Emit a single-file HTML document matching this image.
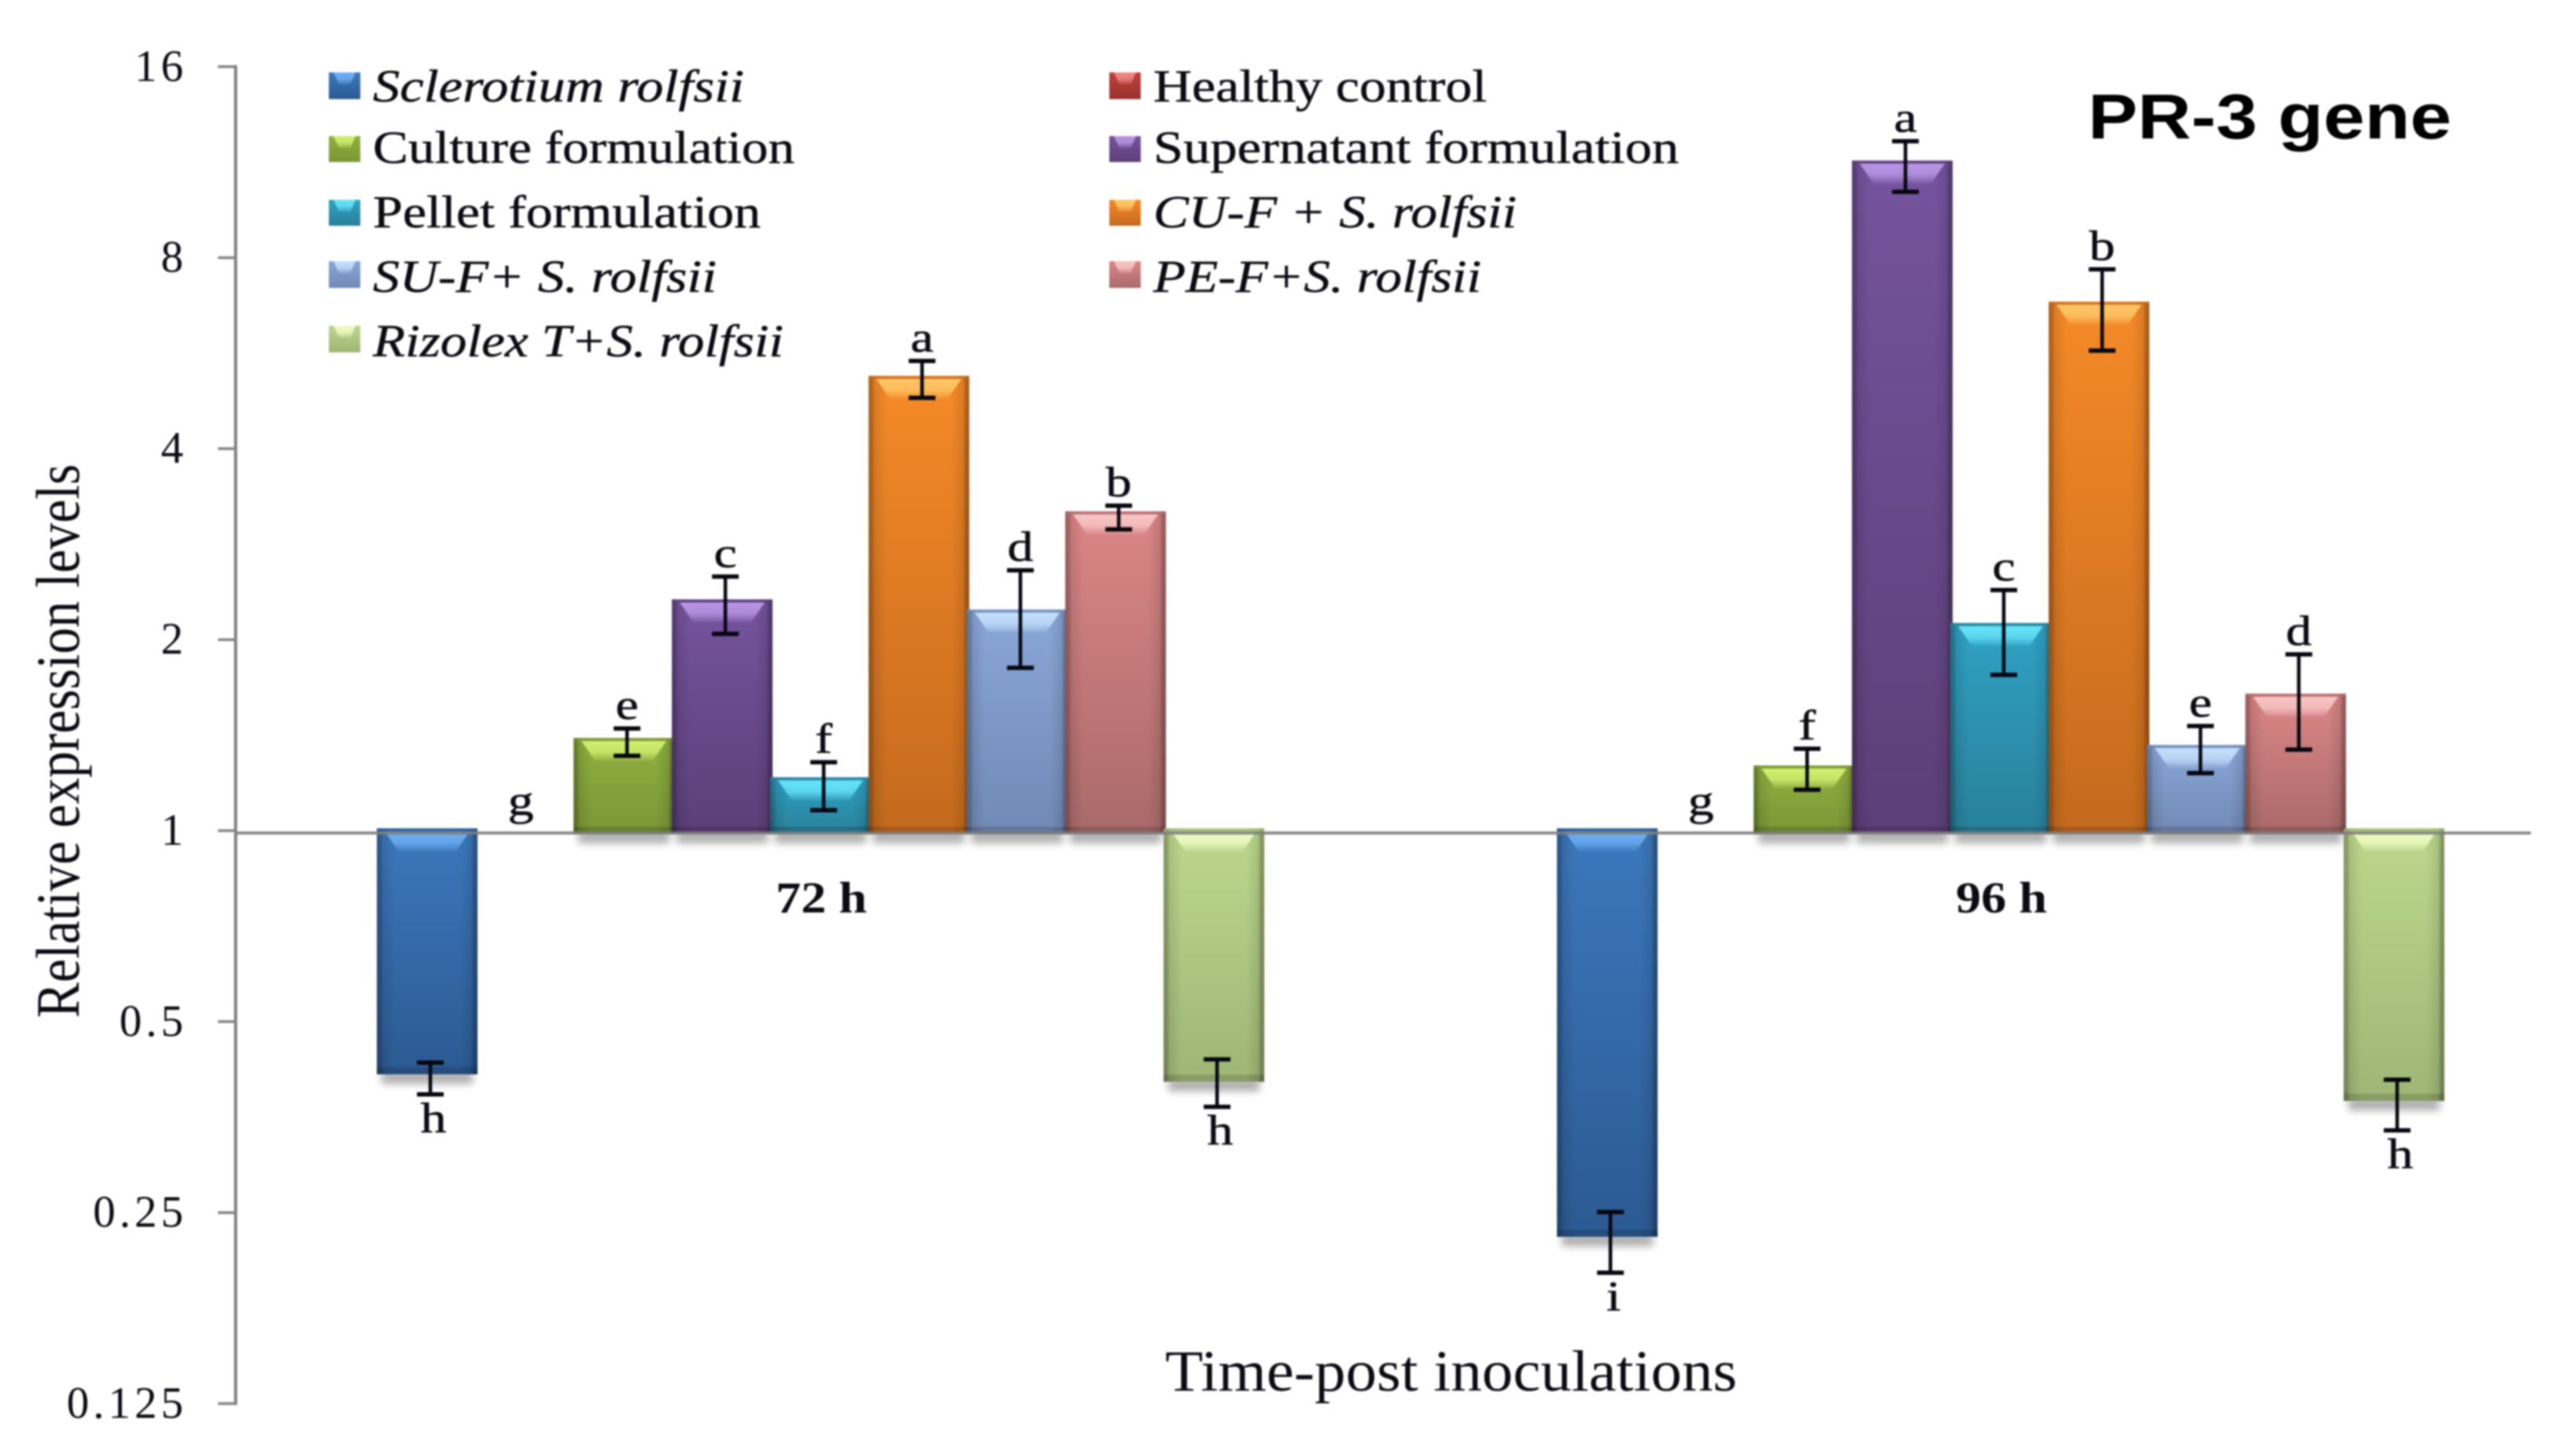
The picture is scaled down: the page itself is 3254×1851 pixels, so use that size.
<!DOCTYPE html>
<html lang="en">
<head>
<meta charset="utf-8">
<title>PR-3 gene relative expression</title>
<style>
html,body{margin:0;padding:0;background:#fff;width:3254px;height:1851px;overflow:hidden}
svg{display:block;filter:blur(1px)}
text{font-family:"Liberation Serif",serif;fill:#0b0b12}
.leg{font-size:58px;stroke:#0b0b12;stroke-width:.5px}
.it{font-style:italic}
</style>
</head>
<body>
<svg id="chart" xmlns="http://www.w3.org/2000/svg" width="3254" height="1851" viewBox="0 0 3254 1851">
  <defs id="defs">
    <linearGradient id="sides" x1="0" x2="1" y1="0" y2="0">
      <stop offset="0" stop-color="#000" stop-opacity=".3"/>
      <stop offset=".04" stop-color="#000" stop-opacity=".24"/>
      <stop offset=".06" stop-color="#000" stop-opacity=".1"/>
      <stop offset=".18" stop-color="#000" stop-opacity="0"/>
      <stop offset=".82" stop-color="#000" stop-opacity="0"/>
      <stop offset=".94" stop-color="#000" stop-opacity=".1"/>
      <stop offset=".96" stop-color="#000" stop-opacity=".26"/>
      <stop offset="1" stop-color="#000" stop-opacity=".34"/>
    </linearGradient>
    <filter id="soft" x="-20%" y="-100%" width="140%" height="300%"><feGaussianBlur stdDeviation="5"/></filter>
  </defs>

  <text x="100" y="1294" font-size="78" textLength="704" lengthAdjust="spacingAndGlyphs" transform="rotate(-90 100 1294)">Relative expression  levels</text>
  <text x="1481" y="1768" font-size="74" textLength="727" lengthAdjust="spacingAndGlyphs">Time-post inoculations</text>
  <text x="2654" y="176" font-size="81" font-weight="700" textLength="462" lengthAdjust="spacingAndGlyphs" style="font-family:'Liberation Sans',sans-serif;fill:#000">PR-3 gene</text>

  <g id="axis"></g>
  <g id="bars"></g>
  <g id="errors"></g>
  <g id="letters"></g>
  <g id="groups"></g>

  <g>
    <g>
      <rect x="418" y="92" width="40" height="34" fill="url(#body-0)"/>
      <polygon points="424,92 452,92 445,108 431,108" fill="url(#hi-0)"/>
      <text class="leg it" x="474" y="129" textLength="472" lengthAdjust="spacingAndGlyphs">Sclerotium rolfsii</text>
    </g>
    <g>
      <rect x="418" y="173" width="40" height="33" fill="url(#body-2)"/>
      <polygon points="424,173 452,173 445,189 431,189" fill="url(#hi-2)"/>
      <text class="leg" x="474" y="207" textLength="536" lengthAdjust="spacingAndGlyphs">Culture formulation</text>
    </g>
    <g>
      <rect x="418" y="254" width="40" height="33" fill="url(#body-4)"/>
      <polygon points="424,254 452,254 445,270 431,270" fill="url(#hi-4)"/>
      <text class="leg" x="474" y="289" textLength="493" lengthAdjust="spacingAndGlyphs">Pellet  formulation</text>
    </g>
    <g>
      <rect x="418" y="332" width="40" height="34" fill="url(#body-6)"/>
      <polygon points="424,332 452,332 445,348 431,348" fill="url(#hi-6)"/>
      <text class="leg it" x="474" y="371" textLength="437" lengthAdjust="spacingAndGlyphs">SU-F+ S. rolfsii</text>
    </g>
    <g>
      <rect x="418" y="414" width="40" height="34" fill="url(#body-8)"/>
      <polygon points="424,414 452,414 445,430 431,430" fill="url(#hi-8)"/>
      <text class="leg it" x="474" y="453" textLength="522" lengthAdjust="spacingAndGlyphs">Rizolex T+S. rolfsii</text>
    </g>
    <g>
      <rect x="1410" y="92" width="40" height="34" fill="url(#body-1)"/>
      <polygon points="1416,92 1444,92 1437,108 1423,108" fill="url(#hi-1)"/>
      <text class="leg" x="1466" y="129" textLength="424" lengthAdjust="spacingAndGlyphs">Healthy control</text>
    </g>
    <g>
      <rect x="1410" y="173" width="40" height="33" fill="url(#body-3)"/>
      <polygon points="1416,173 1444,173 1437,189 1423,189" fill="url(#hi-3)"/>
      <text class="leg" x="1466" y="207" textLength="668" lengthAdjust="spacingAndGlyphs">Supernatant formulation</text>
    </g>
    <g>
      <rect x="1410" y="254" width="40" height="33" fill="url(#body-5)"/>
      <polygon points="1416,254 1444,254 1437,270 1423,270" fill="url(#hi-5)"/>
      <text class="leg it" x="1466" y="289" textLength="462" lengthAdjust="spacingAndGlyphs">CU-F + S. rolfsii</text>
    </g>
    <g>
      <rect x="1410" y="332" width="40" height="34" fill="url(#body-7)"/>
      <polygon points="1416,332 1444,332 1437,348 1423,348" fill="url(#hi-7)"/>
      <text class="leg it" x="1466" y="371" textLength="417" lengthAdjust="spacingAndGlyphs">PE-F+S. rolfsii</text>
    </g>
  </g>
</svg>

<script>
// ---- data ----
const categories = ['72 h', '96 h'];
const seriesNames = ['sclerotium-rolfsii', 'healthy-control', 'culture-formulation', 'supernatant-formulation', 'pellet-formulation', 'cu-f-s-rolfsii', 'su-f-s-rolfsii', 'pe-f-s-rolfsii', 'rizolex-t-s-rolfsii'];
const tickValues = [16, 8, 4, 2, 1, 0.5, 0.25, 0.125];
const tickLabels = ['16', '8', '4', '2', '1', '0.5', '0.25', '0.125'];

const values72 = [0.413, 1, 1.40, 2.315, 1.214, 5.21, 2.231, 3.187, 0.402];
const errHigh72 = [0.431, 1, 1.449, 2.515, 1.282, 5.50, 2.573, 3.252, 0.436];
const errLow72 = [0.384, 1, 1.312, 2.042, 1.077, 4.81, 1.806, 2.984, 0.367];
const letters72 = ['h', 'g', 'e', 'c', 'f', 'a', 'd', 'b', 'h'];

const values96 = [0.229, 1, 1.267, 11.38, 2.125, 6.82, 1.365, 1.644, 0.375];
const errHigh96 = [0.2505, 1, 1.346, 12.21, 2.395, 7.67, 1.462, 1.896, 0.405];
const errLow96 = [0.201, 1, 1.160, 10.16, 1.760, 5.71, 1.232, 1.342, 0.337];
const letters96 = ['i', 'g', 'f', 'a', 'c', 'b', 'e', 'd', 'h'];

// ---- palette (top, bottom, highlight) ----
const palette = [
  ['#3c78bd', '#2c5a92', '#6fb0f5'],
  ['#c0403c', '#963230', '#f08a88'],
  ['#8fb040', '#7a9636', '#d2f070'],
  ['#75549e', '#5b3f78', '#bb96e6'],
  ['#30a2c4', '#29809a', '#66e4fb'],
  ['#f58a28', '#c46a1e', '#ffc868'],
  ['#88a7d8', '#7289b4', '#c4e0fd'],
  ['#dc8686', '#aa6a6a', '#f9c6c6'],
  ['#bcd88c', '#9fb676', '#f0fcc4']
];

// ---- scales ----
const NS = 'http://www.w3.org/2000/svg';
const groupCenters = [543, 2043];
const slot = 125;
const barW = 128;
const yOne = 1056;
const yUnit = 242.8;
function yScale(v) { return yOne - yUnit * Math.log2(v); }
function xScale(g, i) { return groupCenters[g] + i * slot; }

function make(tag, attrs, parent) {
  const el = document.createElementNS(NS, tag);
  for (const k in attrs) el.setAttribute(k, attrs[k]);
  parent.appendChild(el);
  return el;
}

const defs = document.getElementById('defs');
palette.forEach(function (c, i) {
  const body = make('linearGradient', { id: 'body-' + i, x1: 0, x2: 0, y1: 0, y2: 1 }, defs);
  make('stop', { offset: 0, 'stop-color': c[0] }, body);
  make('stop', { offset: 1, 'stop-color': c[1] }, body);
  const hi = make('linearGradient', { id: 'hi-' + i, x1: 0, x2: 0, y1: 0, y2: 1 }, defs);
  make('stop', { offset: 0, 'stop-color': c[2] }, hi);
  make('stop', { offset: .55, 'stop-color': c[2], 'stop-opacity': .8 }, hi);
  make('stop', { offset: 1, 'stop-color': c[2], 'stop-opacity': .05 }, hi);
});

// ---- axis ----
const axis = document.getElementById('axis');
const axisLine = make('line', { x1: 299.5, x2: 299.5, y1: yScale(16) - 2, y2: yScale(0.125) + 2, stroke: '#808080', 'stroke-width': 4 }, axis);


tickValues.forEach(function (v, i) {
  const tick = make('line', { x1: 277, x2: 300, y1: yScale(v), y2: yScale(v), stroke: '#858585', 'stroke-width': 3.5 }, axis);
  
  
  const label = make('text', { x: 238, y: yScale(v) + 18, 'text-anchor': 'end', 'font-size': 57, 'letter-spacing': 5 }, axis);
  label.textContent = tickLabels[i];
  
  
});

// ---- bars ----
const barsLayer = document.getElementById('bars');
const errLayer = document.getElementById('errors');
const letterLayer = document.getElementById('letters');

function drawBar(g, i, v) {
  const cx = xScale(g, i);
  const x = cx - barW / 2;
  const y1 = yScale(v);
  const up = v > 1;
  const top = up ? y1 : yOne - 3;
  const bottom = up ? yOne + 4 : y1;
  const h = v === 1 ? 0 : bottom - top;

  const bar = make('g', {}, barsLayer);
  
  

  const shadow = make('rect', { x: x + 6, y: bottom - 4, width: barW - 12, height: h ? 16 : 0, fill: '#000', opacity: .32, filter: 'url(#soft)' }, bar);
  
  

  const body = make('rect', { x: x, y: top, width: barW, height: h, fill: 'url(#body-' + i + ')' }, bar);
  
  

  const sides = make('rect', { x: x, y: top, width: barW, height: h, fill: 'url(#sides)' }, bar);
  
  

  const foot = make('rect', { x: x, y: bottom - (h ? 9 : 0), width: barW, height: h ? 9 : 0, fill: '#000', opacity: .14 }, bar);
  
  

  const edge = make('rect', { x: x, y: top, width: barW, height: h ? 4 : 0, fill: palette[i][1], opacity: .6 }, bar);
  
  

  if (h) {
    const hl = make('polygon', {
      points: [[x + 10, top + 4], [x + barW - 10, top + 4], [x + barW - 28, top + 30], [x + 28, top + 30]].join(' '),
      fill: 'url(#hi-' + i + ')'
    }, bar);
    
    
  }
}

function drawError(g, i, hi, lo) {
  if (hi === lo) return;
  const cx = xScale(g, i) + 4;
  const eb = make('g', { stroke: '#06060f', fill: 'none' }, errLayer);
  
  
  make('line', { x1: cx, x2: cx, y1: yScale(hi), y2: yScale(lo), 'stroke-width': 4.5 }, eb);
  make('line', { x1: cx - 17, x2: cx + 17, y1: yScale(hi), y2: yScale(hi), 'stroke-width': 5.5 }, eb);
  make('line', { x1: cx - 17, x2: cx + 17, y1: yScale(lo), y2: yScale(lo), 'stroke-width': 5.5 }, eb);
}

function drawLetter(g, i, v, hi, lo, ch) {
  const cx = xScale(g, i) + 4 - (v === 1 ? 10 : 0) + (v < 1 ? 4 : 0);
  const ty = v >= 1 ? yScale(hi) - (v === 1 ? 20 : 12) : yScale(lo) + 48;
  const t = make('text', { 'text-anchor': 'middle', 'font-size': 54, stroke: '#0b0b12', 'stroke-width': .6,
    transform: 'translate(' + cx + ' ' + ty + ') scale(1.22 1)' }, letterLayer);
  t.textContent = ch;
  
  
}

[[values72, errHigh72, errLow72, letters72], [values96, errHigh96, errLow96, letters96]].forEach(function (set, g) {
  set[0].forEach(function (v, i) {
    drawBar(g, i, v);
    drawError(g, i, set[1][i], set[2][i]);
    drawLetter(g, i, v, set[1][i], set[2][i], set[3][i]);
  });
});

// ---- baseline (value 1) ----
const baseLine = make('line', { x1: 300, x2: 3217, y1: yOne + 3, y2: yOne + 3, stroke: '#808080', 'stroke-width': 4, opacity: .9 }, axis.parentNode);


axis.parentNode.insertBefore(baseLine, document.getElementById('errors'));

// ---- group labels ----
const groupLayer = document.getElementById('groups');
categories.forEach(function (c, g) {
  const t = make('text', { x: xScale(g, 4) + 1, y: 1160, 'text-anchor': 'middle', 'font-size': 56, 'font-weight': 700,
    textLength: 116, lengthAdjust: 'spacingAndGlyphs' }, groupLayer);
  t.textContent = c;
  
  
});
</script>
</body>
</html>
